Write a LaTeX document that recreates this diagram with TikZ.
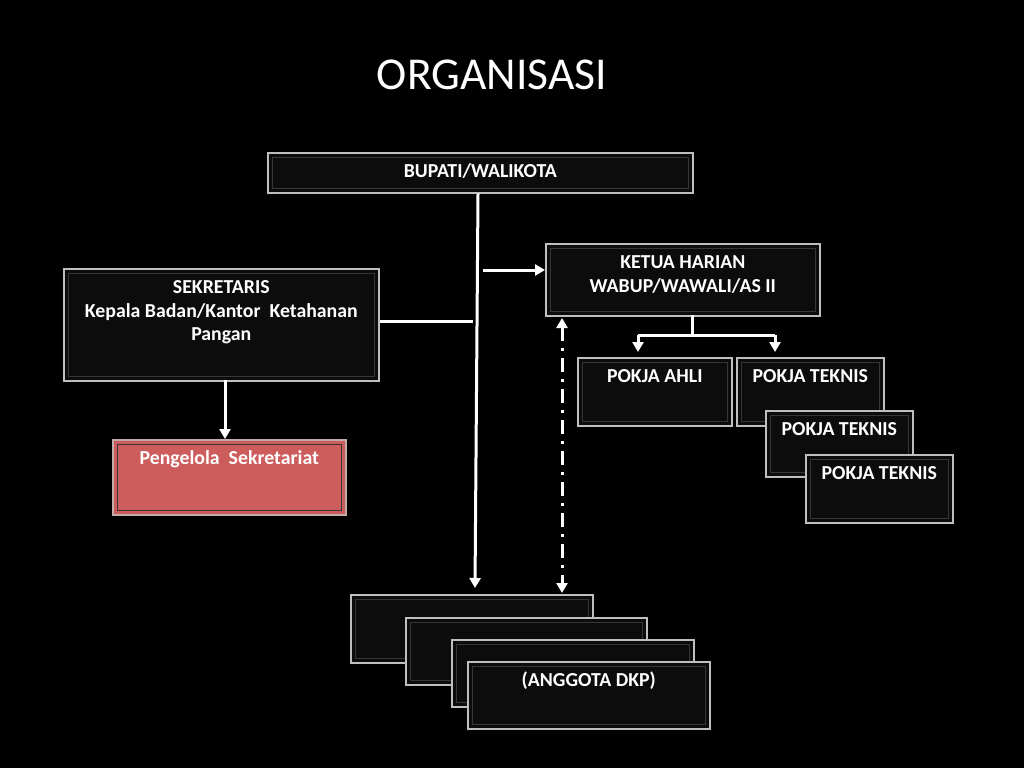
\documentclass[tikz,border=0pt]{standalone}
\usepackage{fontspec}
\setmainfont{Carlito}
\usetikzlibrary{arrows.meta}
\definecolor{boxfill}{HTML}{0C0C0C}
\definecolor{boxline}{HTML}{BFBFBF}
\definecolor{innerline}{HTML}{363636}
\definecolor{redfill}{HTML}{CD5C5C}
\definecolor{redinner}{HTML}{7A2A2A}
\tikzset{
  box/.style={draw=boxline, line width=1.6pt, fill=boxfill, inner sep=0pt, anchor=north west},
  redbox/.style={box, fill=redfill, draw=boxline!80!redfill},
  inner/.style={draw=innerline, line width=1pt},
  redin/.style={draw=redinner, line width=1pt},
  txt/.style={text=white, font=\bfseries\fontsize{19.8}{23.5}\selectfont, align=center, inner sep=0pt},
  conn/.style={draw=white, line width=3pt},
  arr/.style={conn, -{Triangle[length=10pt,width=11pt]}},
}
\newcommand\mybox[7][box]{%
  \node[#1, minimum width={(#4-#2)*1pt}, minimum height={(#5-#3)*1pt}] (#6) at (#2,#3) {};
  \ifx#1redbox
    \draw[redin] ([shift={(5pt,-5pt)}]#6.north west) rectangle ([shift={(-5pt,5pt)}]#6.south east);
  \else
    \draw[inner] ([shift={(5pt,-5pt)}]#6.north west) rectangle ([shift={(-5pt,5pt)}]#6.south east);
  \fi
  \node[txt, anchor=north] (#6-t) at ([yshift=-5.3pt]#6.north) {\rule{0pt}{20pt}#7};
}
\begin{document}
\begin{tikzpicture}[x=1pt,y=-1pt]
\fill[black] (0,0) rectangle (1024,768);
\useasboundingbox (0,0) rectangle (1024,768);
\node[text=white, font=\fontsize{45.6}{52}\selectfont, inner sep=0pt] (title) at (492,75) {ORGANISASI};

\mybox{267}{152}{692}{192}{bup}{BUPATI/WALIKOTA}
\mybox{63}{268}{378}{380}{sek}{SEKRETARIS\\Kepala Badan/Kantor~~Ketahanan\\Pangan}
\mybox{545}{243}{819}{315}{ket}{KETUA HARIAN\\WABUP/WAWALI/AS II}
\mybox{577}{357}{731}{425}{ahli}{POKJA AHLI}
\mybox{736}{357}{883}{425}{tek1}{POKJA TEKNIS}
\mybox{765}{410}{912}{476}{tek2}{POKJA TEKNIS}
\mybox{805}{454}{952}{522}{tek3}{POKJA TEKNIS}
\mybox[redbox]{112}{439}{345}{514}{pen}{Pengelola~~Sekretariat}
\mybox{350}{594}{592}{662}{ang1}{}
\mybox{405}{617}{646}{684}{ang2}{}
\mybox{451}{639}{693}{706}{ang3}{}
\mybox{467}{661}{709}{728}{ang4}{(ANGGOTA DKP)}

% connectors
\coordinate (vtop) at (478,192);
\coordinate (vbot) at (475,588);
\draw[arr] (bup.south -| vtop) -- (vbot);
\coordinate (hend) at (473,321);
\draw[conn] (sek.east |- hend) -- (hend);
\coordinate (kstart) at (483,270);
\draw[arr] (kstart) -- (ket.west |- kstart);
\coordinate (dtop) at (562,318);
\coordinate (dbot) at (562,593);
\draw[conn, {Triangle[length=10pt,width=11pt]}-{Triangle[length=10pt,width=11pt]}, dash pattern=on 14pt off 7pt on 3pt off 7pt] (dtop) -- (dbot);
\coordinate (kb) at (692,315);
\coordinate (kj) at (692,335);
\draw[conn] (kb) -- (kj);
\coordinate (la) at (638,335);
\coordinate (lb) at (775,335);
\draw[conn] (la) -- (lb);
\draw[arr] (la) -- (638,352);
\draw[arr] (lb) -- (775,352);
\coordinate (sb) at (225,380);
\draw[arr] (sb) -- (pen.north -| sb);
\end{tikzpicture}
\end{document}
